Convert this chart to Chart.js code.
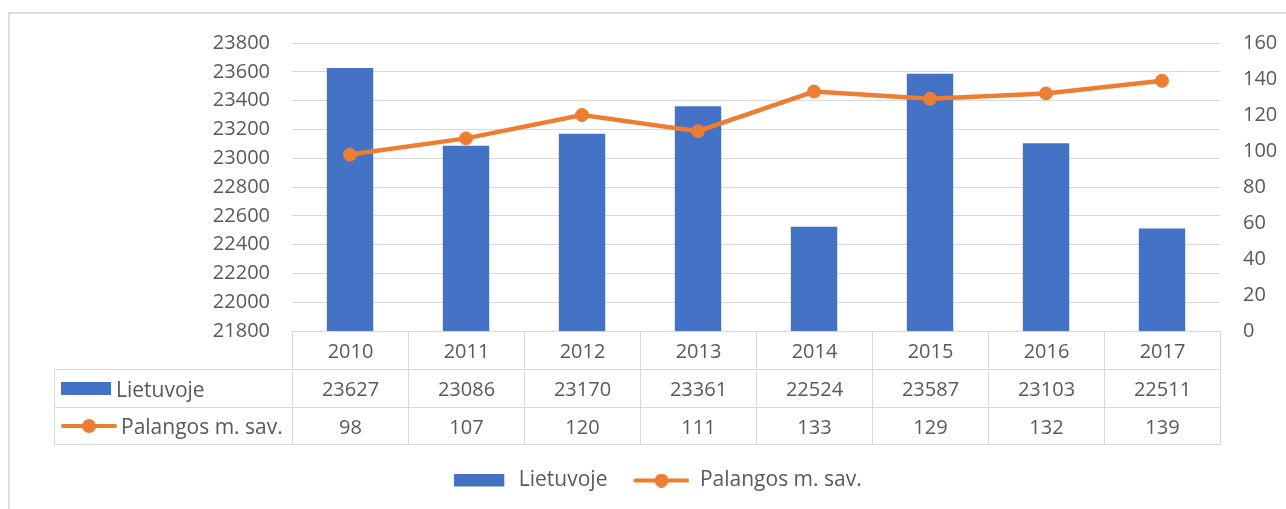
<!DOCTYPE html>
<html lang="lt">
<head>
<meta charset="UTF-8">
<title>Lietuvoje / Palangos m. sav.</title>
<script src="https://cdn.jsdelivr.net/npm/chart.js"></script>
<style>
  html, body { margin: 0; padding: 0; background: #fff; overflow: hidden; }
  #wrap { position: relative; width: 1286px; height: 509px; font-family: "Open Sans", sans-serif; }
  #frame { position: absolute; left: 8px; top: 12px; width: 1300px; height: 520px;
           border-top: 2px solid #dcdcdc; border-left: 2px solid #dcdcdc; box-sizing: border-box; }
  #chart { position: absolute; left: 0; top: 0; }
  #table { position: absolute; left: 0; top: 0; }
  .cell { position: absolute; box-sizing: border-box; border: 1px solid #d9d9d9;
          display: flex; align-items: center; justify-content: center;
          font-size: 20px; color: #595959; white-space: nowrap; }
  .cell.label { justify-content: flex-start; padding-left: 6px; font-size: 21px; }
  .key-bar { display: inline-block; width: 50px; height: 13px; background: #4472C4; margin-right: 5px; }
  .key-line { display: inline-block; position: relative; width: 56px; height: 14px; margin-right: 4px; }
  .key-line::before { content: ""; position: absolute; left: 0; right: 0; top: 5px; height: 4px;
                      background: #ED7D31; border-radius: 2px; }
  .key-line::after { content: ""; position: absolute; left: 21px; top: 0; width: 14px; height: 14px;
                     border-radius: 50%; background: #ED7D31; }
</style>
</head>
<body>
<div id="wrap">
  <div id="frame"></div>
  <canvas id="chart" width="1286" height="509"></canvas>
  <div id="table"></div>
</div>
<script>
// duomenys
const years = ["2010", "2011", "2012", "2013", "2014", "2015", "2016", "2017"];
const lietuvoje = [23627, 23086, 23170, 23361, 22524, 23587, 23103, 22511];
const palanga = [98, 107, 120, 111, 133, 129, 132, 139];
const leftAxis = { min: 21800, max: 23800, step: 200 };
const rightAxis = { min: 0, max: 160, step: 20 };

const BLUE = "#4472C4";
const ORANGE = "#ED7D31";
const GRID = "#d9d9d9";
const TEXT = "#595959";

// legend keys
function barKey() {
  const c = document.createElement("canvas");
  c.width = 52; c.height = 14;
  const g = c.getContext("2d");
  g.fillStyle = BLUE;
  g.fillRect(0, 0, 50, 13);
  return c;
}
function lineKey() {
  const c = document.createElement("canvas");
  c.width = 56; c.height = 14;
  const g = c.getContext("2d");
  g.strokeStyle = ORANGE;
  g.lineWidth = 4;
  g.lineCap = "round";
  g.beginPath(); g.moveTo(2, 7); g.lineTo(54, 7); g.stroke();
  g.fillStyle = ORANGE;
  g.beginPath(); g.arc(28, 7, 7, 0, Math.PI * 2); g.fill();
  return c;
}
const keys = [barKey(), lineKey()];

const chart = new Chart(document.getElementById("chart"), {
  data: {
    labels: years,
    datasets: [
      {
        type: "bar",
        label: "Lietuvoje",
        data: lietuvoje,
        backgroundColor: BLUE,
        categoryPercentage: 0.4,
        barPercentage: 1,
        yAxisID: "y",
        order: 1,
      },
      {
        type: "line",
        label: "Palangos m. sav.",
        data: palanga,
        borderColor: ORANGE,
        backgroundColor: ORANGE,
        borderWidth: 4.5,
        pointRadius: 6.5,
        pointBorderWidth: 1,
        pointBackgroundColor: ORANGE,
        tension: 0,
        yAxisID: "y1",
        order: 0,
      },
    ],
  },
  options: {
    responsive: false,
    animation: false,
    layout: { padding: { top: 43, bottom: 8, left: 28, right: 0 } },
    plugins: {
      tooltip: { enabled: false },
      legend: {
        position: "bottom",
        labels: {
          usePointStyle: true,
          pointStyleWidth: 56,
          padding: 26,
          color: TEXT,
          font: { family: "Open Sans", size: 21 },
          sort: (a, b) => a.datasetIndex - b.datasetIndex,
          generateLabels: (ch) =>
            Chart.defaults.plugins.legend.labels.generateLabels(ch).map((l) => {
              l.pointStyle = keys[l.datasetIndex];
              l.lineWidth = 0;
              return l;
            }),
        },
      },
    },
    scales: {
      x: {
        offset: true,
        grid: { display: false },
        border: { display: false },
        ticks: { display: false },
        afterFit: (s) => { s.height = 113; },
      },
      y: {
        position: "left",
        min: leftAxis.min,
        max: leftAxis.max,
        ticks: {
          stepSize: leftAxis.step,
          padding: 22,
          color: TEXT,
          font: { family: "Open Sans", size: 20 },
          callback: (v) => String(v),
        },
        grid: { color: GRID, lineWidth: 1, drawTicks: false },
        border: { display: false },
        afterFit: (s) => { s.width = 264; },
      },
      y1: {
        position: "right",
        min: rightAxis.min,
        max: rightAxis.max,
        ticks: {
          stepSize: rightAxis.step,
          padding: 23,
          color: TEXT,
          font: { family: "Open Sans", size: 20 },
          callback: (v) => String(v),
        },
        grid: { display: false, drawTicks: false },
        border: { display: false },
        afterFit: (s) => { s.width = 66; },
      },
    },
  },
});

// duomenų lentelė po ašimi
function buildTable() {
  const area = chart.chartArea;
  const x = chart.scales.x;
  const colW = (area.right - area.left) / years.length;
  const rowH = 38;
  const top = area.bottom;
  const labelLeft = 54;
  const box = document.getElementById("table");
  box.innerHTML = "";

  function cell(left, t, w, h, html, cls) {
    const d = document.createElement("div");
    d.className = "cell" + (cls ? " " + cls : "");
    d.style.left = left + "px";
    d.style.top = t + "px";
    d.style.width = w + 1 + "px";
    d.style.height = h + 1 + "px";
    d.innerHTML = html;
    box.appendChild(d);
  }

  years.forEach((y, i) => {
    const cx = x.getPixelForValue(i);
    const l = cx - colW / 2;
    cell(l, top, colW, rowH, y);
    cell(l, top + rowH, colW, rowH, String(lietuvoje[i]));
    cell(l, top + rowH * 2, colW, rowH - 1, String(palanga[i]));
  });
  cell(labelLeft, top + rowH, area.left - labelLeft, rowH,
       '<span class="key-bar"></span>Lietuvoje', "label");
  cell(labelLeft, top + rowH * 2, area.left - labelLeft, rowH - 1,
       '<span class="key-line"></span>Palangos m. sav.', "label");
}
buildTable();
</script>
</body>
</html>
